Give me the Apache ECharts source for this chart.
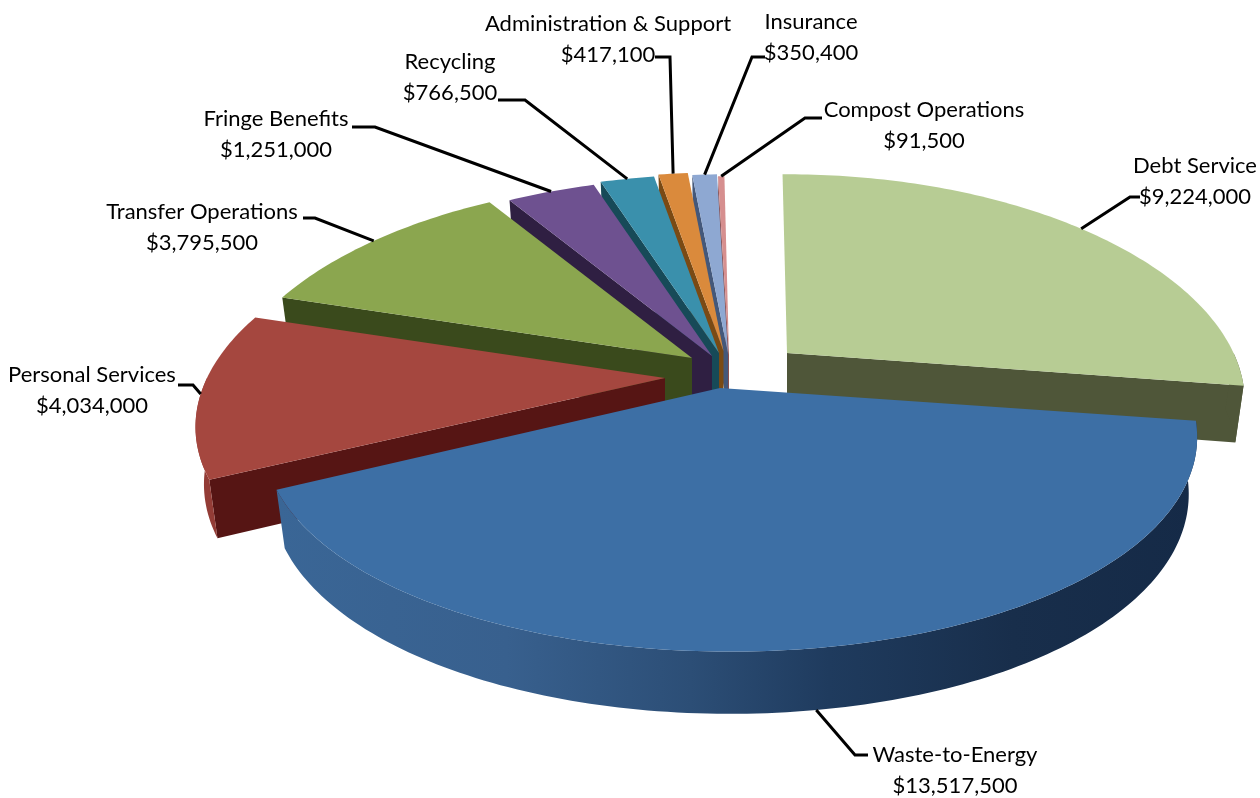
<!DOCTYPE html>
<html><head><meta charset="utf-8">
<style>html,body{margin:0;padding:0;background:#fff}#c{width:1260px;height:798px}</style>
<script src="https://cdn.jsdelivr.net/npm/echarts@6/dist/echarts.min.js"></script>
</head><body><div id="c"></div>
<script>
// ---- data ----
const categories = ['Debt Service','Waste-to-Energy','Personal Services','Transfer Operations','Fringe Benefits','Recycling','Administration & Support','Insurance','Compost Operations'];
const values = [9224000,13517500,4034000,3795500,1251000,766500,417100,350400,91500];
// ---- style: how far each slice is pulled out of the pie, and its look ----
const explodeX = [62,-5,-60,-33,-13,-6,-1.5,3,4];
const explodeY = [-22,13,3,-17,-19,-22,-24,-22,-20];
const radiusScale = [0.975,0.995,1,1,1,1,1,1,1];
const rimShift = [0,10,0,0,0,0,0,0,0];
const topColors = ['#B7CC94','#3D6FA5','#A5473F','#8BA64F','#6E5190','#3A90AC','#DA8A3C','#8EA8D2','#D68F8F'];
const faceColors = ['#4F5639','#1D3A5E','#561514','#3A4A1C','#2F1F42','#174A58','#7A4A14','#44587A','#8A5050'];
const wallColors = ['#4F5639',null,'#933C36','#3A4A1C','#2F1F42','#174A58','#7A4A14','#44587A','#8A5050'];
const wasteWall = [[0,'#3A6696'],[0.25,'#38608E'],[0.45,'#2C4E76'],[0.6,'#1F3B5E'],[0.8,'#182E4B'],[1,'#152A47']];
const drawOrder = [8,7,6,5,4,3,2,0,1];
const labelCenters = [[1195,181],[955,770],[92,390],[202,227],[276,134],[450,77],[608,39],[811,37],[924,125]];
const leaderElbows = [[[1130,197],[1140,197]],[[855,755],[868,755]],[[193,385],[178,385]],[[315,218],[303,218]],[[375,127],[352,127]],[[525,100],[498,100]],[[670,57],[655,57]],[[752,57],[765,57]],[[805,118],[822,118]]];
// ---- projection ----
const CX=725, CY=375, R=458, RY=213, KX=0.22, KY=0.192, DEPTH=56, KD=0.1, NARROW=0.018, START=-0.7;
const total = values.reduce((a,b)=>a+b,0);
const angles=[]; { let a=START; for(const v of values){ const s=a; a+=v/total*360; angles.push([s,a]); } }
const rad=d=>d*Math.PI/180;
function project(i,theta,r,z){
  const t=rad(theta), S=r*Math.sin(t)*radiusScale[i], Y=-r*Math.cos(t);
  return [CX+explodeX[i]+r*rimShift[i]+S*R/(1-KX*Y)*(1-NARROW*z),
          CY+explodeY[i]+Y*RY/(1-KY*Y)+z*DEPTH/(1-KD*Y)];
}
function arc(i,a,b,z){ const n=Math.max(2,Math.ceil(Math.abs(b-a))), p=[]; for(let j=0;j<=n;j++) p.push(project(i,a+(b-a)*j/n,1,z)); return p; }
function renderSlice(params,api){
  const i=api.value(0); const [a,b]=angles[i]; const kids=[];
  const poly=(points,fill)=>kids.push({type:'polygon',shape:{points},style:{fill,stroke:null}});
  if(a>=180){ poly([project(i,a,0,0),project(i,a,1,0),project(i,a,1,1),project(i,a,0,1)],faceColors[i]); }
  if(b<=180){ poly([project(i,b,0,0),project(i,b,1,0),project(i,b,1,1),project(i,b,0,1)],faceColors[i]); }
  const wa=Math.max(a,90), wb=Math.min(b,270);
  if(wb>wa){
    const top=arc(i,wa,wb,0), low=arc(i,wa,wb,1).reverse();
    const fill= wallColors[i] || {type:'linear',x:0,y:0,x2:1,y2:0,colorStops:wasteWall.map(s=>({offset:s[0],color:s[1]}))};
    poly(top.concat(low),fill);
  }
  poly([project(i,a,0,0)].concat(arc(i,a,b,0)),topColors[i]);
  return {type:'group',children:kids};
}
function renderLabel(params,api){
  const i=api.value(0); const mid=(angles[i][0]+angles[i][1])/2;
  const start=project(i,mid,1,i===1?1:0);
  return {type:'group',children:[
    {type:'polyline',shape:{points:[start].concat(leaderElbows[i])},style:{stroke:'#000',lineWidth:3,fill:null}},
    {type:'text',style:{text:categories[i]+'\n$'+values[i].toLocaleString('en-US'),x:labelCenters[i][0],y:labelCenters[i][1],align:'center',verticalAlign:'middle',fill:'#000',font:'22px Lato',lineHeight:31}}
  ]};
}
const chart=echarts.init(document.getElementById('c'),null,{renderer:'canvas'});
chart.setOption({animation:false,backgroundColor:'#fff',series:[
  {type:'custom',coordinateSystem:'none',silent:true,data:drawOrder.map(i=>[i,values[i]]),renderItem:renderSlice,z:2},
  {type:'custom',coordinateSystem:'none',silent:true,data:values.map((v,i)=>[i,v]),renderItem:renderLabel,z:3}
]});
</script></body></html>
